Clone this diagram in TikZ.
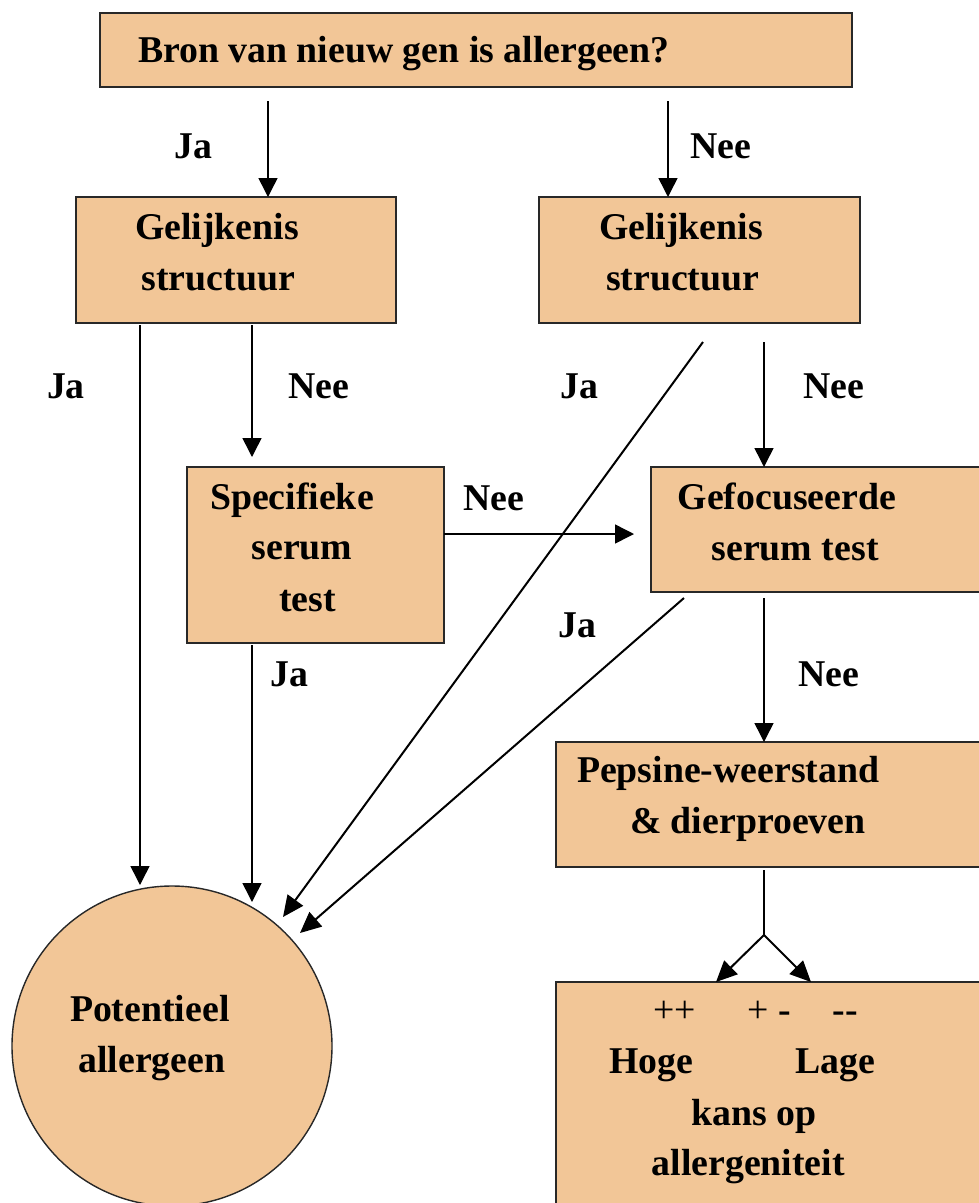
\documentclass[tikz,border=0pt]{standalone}
\usepackage{fontspec}
\setmainfont{Liberation Serif}
\usetikzlibrary{arrows.meta}
\definecolor{boxfill}{RGB}{242,198,151}
\definecolor{boxline}{RGB}{40,40,40}
\begin{document}
\begin{tikzpicture}[x=1pt,y=-1pt,
  box/.style={draw=boxline,fill=boxfill,line width=1.4pt,inner sep=0pt,outer sep=0pt},
  txt/.style={anchor=base west,inner sep=0pt,outer sep=0pt,font=\fontsize{37.8}{45}\selectfont\bfseries},
  txtr/.style={anchor=base west,inner sep=0pt,outer sep=0pt,font=\fontsize{37.8}{45}\selectfont},
  con/.style={line width=1.5pt},
  arr/.style={line width=1.5pt,-{Triangle[length=19pt,width=19pt]}},
  diag/.style={line width=2pt,-{Triangle[length=21pt,width=19pt]}}]
\useasboundingbox (0,0) rectangle (979,1203);
\clip (0,0) rectangle (979,1203);
\fill[white] (0,0) rectangle (979,1203);

% boxes
\node[box,minimum width=752pt,minimum height=74pt] (top) at (476,50) {};
\node[box,minimum width=320pt,minimum height=126pt] (g1) at (236,260) {};
\node[box,minimum width=321pt,minimum height=126pt] (g2) at (699.5,260) {};
\node[box,minimum width=257pt,minimum height=176pt] (s) at (315.5,555) {};
\node[box,minimum width=340pt,minimum height=125pt] (f) at (821,529.5) {};
\node[box,minimum width=435pt,minimum height=125pt] (p) at (773.5,804.5) {};
\node[box,minimum width=435pt,minimum height=235pt] (r) at (773.5,1099.5) {};
\node[box,circle,minimum size=320pt] (c) at (172,1046) {};

% texts
\node[txt] (t0) at (138,62.7) {Bron van nieuw gen is allergeen?};
\node[txt] (g1a) at (135,239) {Gelijkenis};
\node[txt] (g1b) at (141.7,290) {structuur};
\node[txt] (g2a) at (599,239) {Gelijkenis};
\node[txt] (g2b) at (606,290) {structuur};
\node[txt] (sa) at (210,509.3) {Specifieke};
\node[txt] (sb) at (251.7,559.3) {serum};
\node[txt] (sc) at (279,611.7) {test};
\node[txt] (fa) at (677.7,509.3) {Gefocuseerde};
\node[txt] (fb) at (711.7,560) {serum test};
\node[txt] (pa) at (577,782) {Pepsine-weerstand};
\node[txt] (pb) at (630,833) {\& dierproeven};
\node[txtr] (ra) at (653.3,1022.7) {++};
\node[txtr] (rb) at (747.3,1022.7) {+ \textbf{-}};
\node[txt] (rc) at (832.7,1022.7) {-{}-};
\node[txt] (rd) at (609,1073.3) {Hoge};
\node[txt] (re) at (795,1073.3) {Lage};
\node[txt] (rf) at (691.7,1125.7) {kans op};
\node[txt] (rg) at (651.7,1175) {allergeniteit};
\node[txt] (ca) at (70,1021.7) {Potentieel};
\node[txt] (cb) at (78.3,1072.7) {allergeen};

% labels
\node[txt] (l1) at (174.5,158) {Ja};
\node[txt] (l2) at (690,158) {Nee};
\node[txt] (l3) at (47,398) {Ja};
\node[txt] (l4) at (288.7,398) {Nee};
\node[txt] (l5) at (560.4,398) {Ja};
\node[txt] (l6) at (803,398) {Nee};
\node[txt] (l7) at (463.3,510) {Nee};
\node[txt] (l8) at (558.5,637) {Ja};
\node[txt] (l9) at (270.6,686) {Ja};
\node[txt] (l10) at (798.6,686) {Nee};

% connector coordinates
\coordinate (a1) at (268,101);
\coordinate (a2) at (668,101);
\coordinate (b1) at (140,325);
\coordinate (b1t) at (140,885);
\coordinate (b2) at (252,325);
\coordinate (b2t) at (252,457);
\coordinate (d1) at (703,342);
\coordinate (d1t) at (283,917);
\coordinate (v1) at (764,342);
\coordinate (h1) at (444,534);
\coordinate (h1t) at (634,534);
\coordinate (e1) at (252,645);
\coordinate (e1t) at (252,902);
\coordinate (d2) at (684,598);
\coordinate (d2t) at (300,933);
\coordinate (v2) at (764,598);
\coordinate (v3) at (764,870);
\coordinate (sp) at (764,935);
\coordinate (sl) at (716,982);
\coordinate (sr) at (811,982);

% connectors
\draw[arr] (a1) -- (a1 |- g1.north);
\draw[arr] (a2) -- (a2 |- g2.north);
\draw[arr] (b1) -- (b1t);
\draw[arr] (b2) -- (b2t);
\draw[diag] (d1) -- (d1t);
\draw[arr] (v1) -- (v1 |- f.north);
\draw[arr] (h1) -- (h1t);
\draw[arr] (e1) -- (e1t);
\draw[diag] (d2) -- (d2t);
\draw[arr] (v2) -- (v2 |- p.north);
\draw[con] (v3) -- (sp);
\draw[diag] (sp) -- (sl);
\draw[diag] (sp) -- (sr);
\end{tikzpicture}
\end{document}
